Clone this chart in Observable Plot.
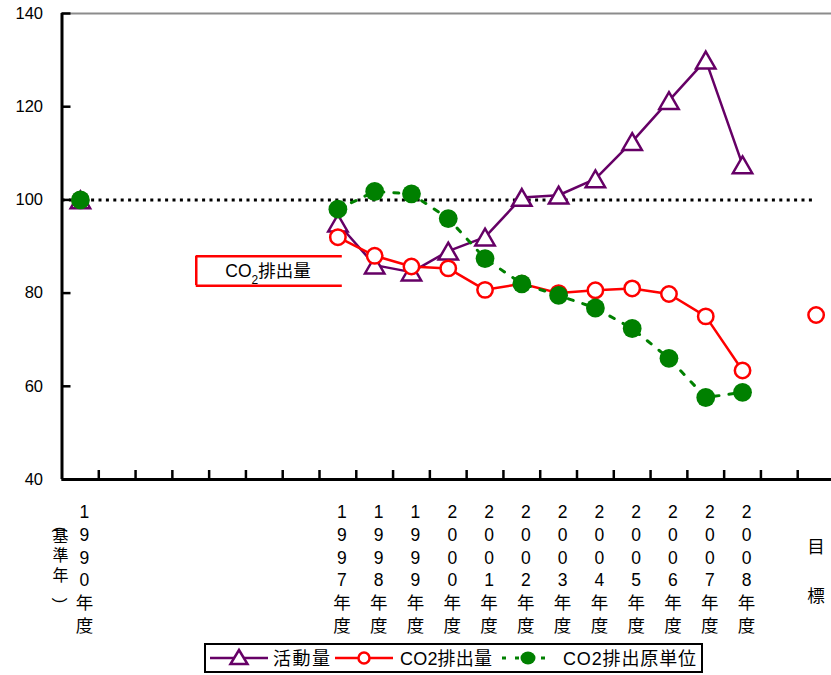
<!DOCTYPE html>
<html><head><meta charset="utf-8">
<script src="https://cdn.jsdelivr.net/npm/d3@7"></script>
<script src="https://cdn.jsdelivr.net/npm/@observablehq/plot@0.6"></script>
<style>
body{margin:0;background:#fff;font-family:"Liberation Sans",Arial,"Noto Sans CJK JP",sans-serif;}
#chart svg{display:block;}
#legend{display:block;}
</style></head><body><div id="chart"></div><div id="legendWrap"></div>
<script>
// ---- data ----
const categories = ["1990","","","","","","","1997","1998","1999","2000","2001","2002","2003","2004","2005","2006","2007","2008","","目標"];
const activity  = [100,null,null,null,null,null,null,95,86,84.5,89,92,100.5,101,104.5,112.5,121.3,130,107.5,null,null];
const emissions = [100,null,null,null,null,null,null,92,88,85.7,85.3,80.7,82,80,80.6,81,79.8,75,63.4,null,75.3];
const intensity = [100,null,null,null,null,null,null,98,101.8,101.3,96,87.4,82,79.5,76.8,72.4,66,57.6,58.7,null,null];
const yTicks = [40,60,80,100,120,140];
const seriesNames = ["活動量","CO2排出量","CO2排出原単位"];
const baseYearNote = "(基準年)";
const targetLabel = "目標";
const annotationText = "CO2排出量";
const referenceLevel = 100;

// ---- derived tables ----
const rows = vals => vals.map((v,i)=>({i, v}));
const actRows = rows(activity), emiRows = rows(emissions), intRows = rows(intensity);
const yearLabels = categories.map((c,i)=>({i, label: /^\d+$/.test(c) ? c.split("").concat(["年","度"]).join("\n") : ""})).filter(d=>d.label);
const targetIdx = categories.indexOf(targetLabel);
const boundaries = d3.range(0.5, categories.length - 1, 1);
const noteChars = baseYearNote.split("");
const noteOpen = noteChars[0], noteClose = noteChars[noteChars.length-1];
const noteBody = noteChars.slice(1, -1).join("\n");

const purple = "#660066", red = "#ff0000", green = "#008000";
const FONT = '"Liberation Sans", Arial, "Noto Sans CJK JP", sans-serif';
const xLo = -0.5, xHi = categories.length - 0.5;
const xTickLen = 9 / (466/100);     // in y units
const yTickLen = 9 / (772.5/21);    // in x units

const chart = Plot.plot({
  width: 831, height: 642,
  marginTop: 13, marginBottom: 163, marginLeft: 61.5, marginRight: 0,
  style: {fontFamily: FONT, fontSize: "16.5px", color: "#000", background: "#fff"},
  x: {type: "linear", domain: [xLo, xHi], range: [61.5, 834], axis: null},
  y: {domain: [40, 140], axis: null},
  marks: [
    Plot.ruleY([140], {stroke: "#8c8c8c", strokeWidth: 2}),
    Plot.ruleY([referenceLevel], {x1: xLo, x2: targetIdx, stroke: "#000", strokeWidth: 3, strokeDasharray: "3,4.4"}),
    // axes
    Plot.ruleX(boundaries, {x: d=>d, y1: 40, y2: 40 + xTickLen, stroke: "#000", strokeWidth: 2.5}),
    Plot.ruleY(yTicks, {y: d=>d, x1: xLo, x2: xLo + yTickLen, stroke: "#000", strokeWidth: 2.5}),
    Plot.ruleX([xLo], {y1: 40, y2: 140, stroke: "#000", strokeWidth: 3}),
    Plot.ruleY([40], {x1: xLo, x2: xHi, stroke: "#000", strokeWidth: 3}),
    Plot.text(yTicks, {y: d=>d, text: d=>String(d), frameAnchor: "left", textAnchor: "end", dx: -19, fontSize: 16.5}),
    // x labels
    Plot.text(yearLabels, {x: "i", text: "label", frameAnchor: "bottom", lineAnchor: "top", dy: 22.5, dx: 4, fontSize: 17.5, lineHeight: 1.3}),
    Plot.text([noteBody], {x: 0, text: d=>d, frameAnchor: "bottom", lineAnchor: "top", dy: 49, dx: -20, fontSize: 16, lineHeight: 1.2}),
    Plot.text([noteOpen], {x: 0, text: d=>d, frameAnchor: "bottom", lineAnchor: "middle", dy: 50, dx: -20, fontSize: 17, rotate: 90}),
    Plot.text([noteClose], {x: 0, text: d=>d, frameAnchor: "bottom", lineAnchor: "middle", dy: 121, dx: -20, fontSize: 17, rotate: 90}),
    Plot.text([targetLabel.split("").join("\n")], {x: targetIdx, text: d=>d, frameAnchor: "bottom", lineAnchor: "top", dy: 39, dx: 0, fontSize: 17.5, lineHeight: 2.8}),
    // annotation box
    Plot.ruleY([81.6, 87.9], {y: d=>d, x1: 3.15, x2: 7.12, stroke: red, strokeWidth: 2.5}),
    Plot.ruleX([3.15], {y1: 81.6, y2: 87.9, stroke: red, strokeWidth: 2.5}),
    Plot.text([annotationText], {x: 5.1, y: 84.75, text: d=>d, fontSize: 17.5}),
    // series
    Plot.line(actRows, {x: "i", y: "v", stroke: purple, strokeWidth: 2.5}),
    Plot.dot(actRows.filter(d=>d.v!=null), {x: "i", y: "v", symbol: "triangle", r: 7.2, dy: 2.7, stroke: purple, strokeWidth: 2.5, fill: "#fff"}),
    Plot.line(emiRows, {x: "i", y: "v", stroke: red, strokeWidth: 2.5}),
    Plot.dot(emiRows.filter(d=>d.v!=null), {x: "i", y: "v", r: 7.7, stroke: red, strokeWidth: 2.5, fill: "#fff"}),
    Plot.line(intRows, {x: "i", y: "v", stroke: green, strokeWidth: 3, strokeDasharray: "5,10"}),
    Plot.dot(intRows.filter(d=>d.v!=null), {x: "i", y: "v", r: 9.4, fill: green, stroke: "none"})
  ]
});
document.getElementById("chart").appendChild(chart);

// subscript in annotation
chart.querySelectorAll("text").forEach(t => {
  if (t.textContent === annotationText) {
    t.innerHTML = 'CO<tspan baseline-shift="sub" font-size="12">2</tspan>排出量';
  }
});

// ---- legend ----
const lg = `
<svg id="legend" width="831" height="33" xmlns="http://www.w3.org/2000/svg" font-family='${FONT}' font-size="18">
  <rect x="205" y="2" width="497" height="28" fill="#fff" stroke="#000" stroke-width="2"/>
  <line x1="210" y1="16" x2="268" y2="16" stroke="${purple}" stroke-width="2.5"/>
  <path d="M239,8 L247.5,22 L230.5,22 Z" fill="#fff" stroke="${purple}" stroke-width="2.5"/>
  <text x="273" y="22.5" textLength="57" lengthAdjust="spacing">${seriesNames[0]}</text>
  <line x1="335" y1="16" x2="393" y2="16" stroke="${red}" stroke-width="2.5"/>
  <circle cx="364" cy="16" r="5.5" fill="#fff" stroke="${red}" stroke-width="2.5"/>
  <text x="400" y="22.5" textLength="92" lengthAdjust="spacing">${seriesNames[1]}</text>
  <line x1="502" y1="16" x2="554" y2="16" stroke="${green}" stroke-width="3" stroke-dasharray="4,9"/>
  <ellipse cx="528" cy="16" rx="7.5" ry="6.5" fill="${green}"/>
  <text x="563" y="22.5" textLength="133" lengthAdjust="spacing">${seriesNames[2]}</text>
</svg>`;
document.getElementById("legendWrap").innerHTML = lg;
</script>
</body></html>
